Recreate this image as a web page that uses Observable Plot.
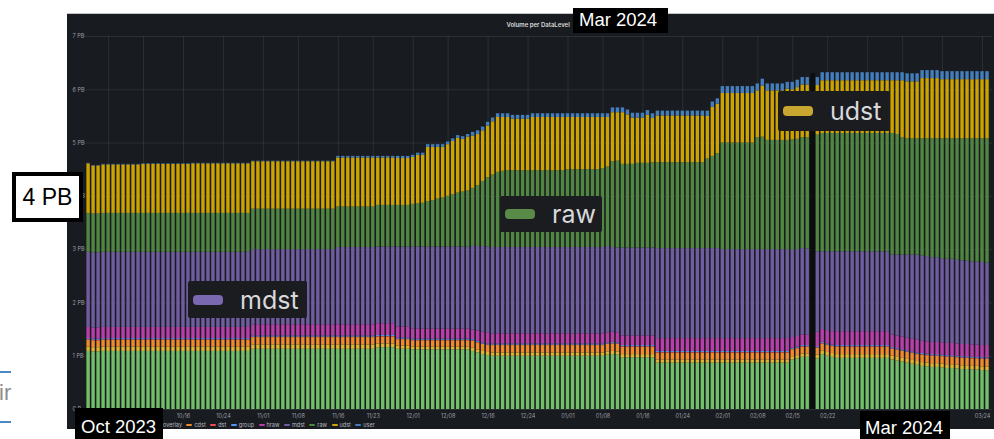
<!DOCTYPE html>
<html>
<head>
<meta charset="utf-8">
<script src="https://cdn.jsdelivr.net/npm/d3@7"></script>
<script src="https://cdn.jsdelivr.net/npm/@observablehq/plot@0.6"></script>
<style>
html,body{margin:0;padding:0;background:#fff;}
body{width:994px;height:439px;position:relative;overflow:hidden;font-family:Inter,"Liberation Sans",sans-serif;}
#panel{position:absolute;left:67px;top:13px;width:927px;height:416px;background:#181b1f;border-top:1px solid #c4c4c4;box-sizing:border-box;}
#chart{position:absolute;left:0;top:0;}
.note{position:absolute;background:#000;color:#fff;font-family:"Liberation Sans",Arial,sans-serif;font-size:18.5px;line-height:1;box-sizing:border-box;}
.note span{position:absolute;line-height:1;}
.pb{position:absolute;left:12px;top:172px;width:71px;height:50px;background:#fff;border:4px solid #000;box-sizing:border-box;display:flex;align-items:center;justify-content:center;font-family:"Liberation Sans",Arial,sans-serif;font-size:23px;color:#000;}
.lab{position:absolute;background:#1b1c20;color:#d8d9da;font-family:Inter,sans-serif;font-size:25px;display:flex;align-items:center;box-sizing:border-box;border-radius:2px;}
.lab i{display:block;width:30px;height:10px;border-radius:4px;margin-left:5px;margin-right:17px;}
#legend{position:absolute;top:422px;left:155px;display:flex;align-items:center;font-size:5.5px;color:#b8bac4;font-family:Inter,sans-serif;white-space:nowrap;}
#legend .it{display:flex;align-items:center;margin-right:4.5px;}
#legend .sw{width:6px;height:1.5px;margin-right:2px;border-radius:1px;}
.side{position:absolute;}
</style>
</head>
<body>
<div id="panel"></div>
<div id="chart"></div>
<div id="legend"></div>
<div class="side" style="left:0;top:371px;width:11px;height:1.5px;background:#4f86c6;"></div>
<div class="side" style="left:0;top:421px;width:11px;height:1.5px;background:#4f86c6;"></div>
<div class="side" style="left:-1px;top:382px;font-family:'Liberation Sans',Arial,sans-serif;font-size:22px;color:#8c8c8c;line-height:1;">ir</div>
<script>
// ---- data ----
const startDay = "2023-09-27";
const endDay = "2024-03-26"; // exclusive
const gapDays = ["2024-02-19"];
const chartTitle = "Volume per DataLevel";
const yTicks = [0, 1, 2, 3, 4, 5, 6, 7];
const yTickLabels = ["0 B", "1 PB", "2 PB", "3 PB", "4 PB", "5 PB", "6 PB", "7 PB"];
const tickDates = ["2023-10-01","2023-10-08","2023-10-16","2023-10-24","2023-11-01","2023-11-08","2023-11-16","2023-11-23","2023-12-01","2023-12-08","2023-12-16","2023-12-24","2024-01-01","2024-01-08","2024-01-16","2024-01-24","2024-02-01","2024-02-08","2024-02-15","2024-02-22","2024-03-01","2024-03-08","2024-03-16","2024-03-24"];
// labels hidden behind the "Oct 2023" / "Mar 2024" notes in the reference are left blank
const tickLabels = ["","","10/16","10/24","11/01","11/08","11/16","11/23","12/01","12/08","12/16","12/24","01/01","01/08","01/16","01/24","02/01","02/08","02/15","02/22","","","","03/24"];
const seriesNames = ["mc", "overlay", "cdst", "dst", "group", "hraw", "mdst", "raw", "udst", "user"];
const seriesColors = ["#73bf69", "#e0b62e", "#f08a2c", "#f2495c", "#5794f2", "#b83fa9", "#705da0", "#508642", "#cca300", "#447ebc"];

// values in PB, one per day from startDay (null = no data)
const mc = [
1.09,1.08,1.08,1.09,1.09,1.09,1.09,1.09,1.09,1.09,
1.09,1.09,1.09,1.09,1.09,1.09,1.09,1.09,1.09,1.09,
1.09,1.09,1.09,1.09,1.09,1.09,1.09,1.09,1.09,1.09,
1.09,1.09,1.09,1.13,1.13,1.13,1.13,1.13,1.13,1.13,
1.13,1.13,1.13,1.13,1.13,1.13,1.13,1.13,1.13,1.13,
1.13,1.13,1.13,1.13,1.13,1.13,1.13,1.13,1.16,1.16,
1.16,1.16,1.13,1.13,1.13,1.12,1.12,1.12,1.12,1.12,
1.12,1.12,1.12,1.12,1.12,1.12,1.12,1.09,1.06,1.03,
1.01,1.00,1.00,1.00,1.00,1.00,1.00,1.00,1.00,1.00,
1.00,1.00,1.00,1.00,1.00,1.00,1.00,1.00,1.00,1.00,
1.00,1.00,1.00,1.00,1.02,1.03,1.02,0.97,0.97,0.97,
0.97,0.97,0.97,0.97,0.87,0.87,0.87,0.87,0.87,0.87,
0.87,0.87,0.87,0.87,0.87,0.87,0.87,0.87,0.87,0.87,
0.87,0.87,0.87,0.87,0.87,0.87,0.87,0.87,0.87,0.87,
0.87,0.93,0.95,0.98,0.98,null,0.95,1.03,1.00,0.98,
0.96,0.96,0.96,0.96,0.96,0.96,0.96,0.96,0.96,0.96,
0.96,0.93,0.91,0.89,0.87,0.85,0.83,0.81,0.80,0.79,
0.79,0.78,0.77,0.77,0.76,0.75,0.75,0.74,0.74,0.73,
0.73];
const overlay = [
0.08,0.08,0.08,0.08,0.08,0.08,0.08,0.08,0.08,0.08,
0.08,0.08,0.08,0.08,0.08,0.08,0.08,0.08,0.08,0.08,
0.08,0.08,0.08,0.08,0.08,0.08,0.08,0.08,0.08,0.08,
0.08,0.08,0.08,0.08,0.08,0.08,0.08,0.08,0.08,0.08,
0.08,0.08,0.08,0.08,0.08,0.08,0.08,0.08,0.08,0.08,
0.08,0.08,0.08,0.08,0.08,0.08,0.08,0.08,0.07,0.07,
0.07,0.07,0.06,0.06,0.06,0.05,0.05,0.05,0.05,0.05,
0.05,0.05,0.05,0.05,0.05,0.05,0.05,0.06,0.06,0.06,
0.06,0.06,0.06,0.06,0.06,0.06,0.06,0.06,0.06,0.06,
0.06,0.06,0.06,0.06,0.06,0.06,0.06,0.06,0.06,0.06,
0.06,0.06,0.06,0.06,0.06,0.06,0.06,0.06,0.06,0.06,
0.06,0.06,0.06,0.06,0.06,0.06,0.06,0.06,0.06,0.06,
0.06,0.06,0.06,0.06,0.06,0.06,0.06,0.06,0.06,0.06,
0.06,0.06,0.06,0.06,0.06,0.06,0.06,0.06,0.06,0.06,
0.06,0.06,0.06,0.06,0.06,null,0.07,0.07,0.07,0.07,
0.07,0.07,0.07,0.07,0.07,0.07,0.07,0.07,0.07,0.07,
0.07,0.07,0.07,0.07,0.07,0.07,0.07,0.07,0.07,0.07,
0.07,0.07,0.07,0.07,0.07,0.07,0.07,0.07,0.07,0.07,
0.07];
const cdst = [
0.13,0.13,0.13,0.13,0.13,0.13,0.13,0.13,0.13,0.13,
0.13,0.13,0.13,0.13,0.13,0.13,0.13,0.13,0.13,0.13,
0.13,0.13,0.13,0.13,0.13,0.13,0.13,0.13,0.13,0.13,
0.13,0.13,0.13,0.14,0.14,0.14,0.14,0.14,0.14,0.14,
0.14,0.14,0.14,0.14,0.14,0.14,0.14,0.14,0.14,0.14,
0.14,0.14,0.14,0.14,0.14,0.14,0.14,0.14,0.13,0.13,
0.13,0.13,0.12,0.12,0.12,0.12,0.12,0.12,0.12,0.12,
0.12,0.12,0.12,0.12,0.12,0.12,0.12,0.13,0.13,0.13,
0.13,0.14,0.14,0.14,0.14,0.14,0.14,0.14,0.14,0.14,
0.14,0.14,0.14,0.14,0.14,0.14,0.14,0.14,0.14,0.14,
0.14,0.14,0.14,0.14,0.14,0.14,0.14,0.14,0.14,0.14,
0.14,0.14,0.14,0.14,0.13,0.13,0.13,0.13,0.13,0.13,
0.13,0.13,0.13,0.13,0.13,0.13,0.13,0.13,0.13,0.13,
0.13,0.13,0.13,0.13,0.13,0.13,0.13,0.13,0.13,0.13,
0.13,0.13,0.13,0.13,0.13,null,0.13,0.13,0.13,0.13,
0.14,0.14,0.14,0.14,0.14,0.14,0.14,0.14,0.14,0.14,
0.14,0.13,0.13,0.13,0.13,0.13,0.13,0.14,0.14,0.14,
0.14,0.14,0.14,0.14,0.14,0.14,0.14,0.14,0.14,0.14,
0.14];
const dst = [
0.01,0.01,0.01,0.01,0.01,0.01,0.01,0.01,0.01,0.01,
0.01,0.01,0.01,0.01,0.01,0.01,0.01,0.01,0.01,0.01,
0.01,0.01,0.01,0.01,0.01,0.01,0.01,0.01,0.01,0.01,
0.01,0.01,0.01,0.01,0.01,0.01,0.01,0.01,0.01,0.01,
0.01,0.01,0.01,0.01,0.01,0.01,0.01,0.01,0.01,0.01,
0.01,0.01,0.01,0.01,0.01,0.01,0.01,0.01,0.01,0.01,
0.01,0.01,0.01,0.01,0.01,0.01,0.01,0.01,0.01,0.01,
0.01,0.01,0.01,0.01,0.01,0.01,0.01,0.01,0.01,0.01,
0.01,0.01,0.01,0.01,0.01,0.01,0.01,0.01,0.01,0.01,
0.01,0.01,0.01,0.01,0.01,0.01,0.01,0.01,0.01,0.01,
0.01,0.01,0.01,0.01,0.01,0.01,0.01,0.01,0.01,0.01,
0.01,0.01,0.01,0.01,0.01,0.01,0.01,0.01,0.01,0.01,
0.01,0.01,0.01,0.01,0.01,0.01,0.01,0.01,0.01,0.01,
0.01,0.01,0.01,0.01,0.01,0.01,0.01,0.01,0.01,0.01,
0.01,0.01,0.01,0.01,0.01,null,0.01,0.01,0.01,0.01,
0.01,0.01,0.01,0.01,0.01,0.01,0.01,0.01,0.01,0.01,
0.01,0.01,0.01,0.01,0.01,0.01,0.01,0.01,0.01,0.01,
0.01,0.01,0.01,0.01,0.01,0.01,0.01,0.01,0.01,0.01,
0.01];
const group = [
0.02,0.02,0.02,0.02,0.02,0.02,0.02,0.02,0.02,0.02,
0.02,0.02,0.02,0.02,0.02,0.02,0.02,0.02,0.02,0.02,
0.02,0.02,0.02,0.02,0.02,0.02,0.02,0.02,0.02,0.02,
0.02,0.02,0.02,0.02,0.02,0.02,0.02,0.02,0.02,0.02,
0.02,0.02,0.02,0.02,0.02,0.02,0.02,0.02,0.02,0.02,
0.02,0.02,0.02,0.02,0.02,0.02,0.02,0.02,0.02,0.02,
0.02,0.02,0.02,0.02,0.02,0.02,0.02,0.02,0.02,0.02,
0.02,0.02,0.02,0.02,0.02,0.02,0.02,0.02,0.02,0.02,
0.02,0.02,0.02,0.02,0.02,0.02,0.02,0.02,0.02,0.02,
0.02,0.02,0.02,0.02,0.02,0.02,0.02,0.02,0.02,0.02,
0.02,0.02,0.02,0.02,0.02,0.02,0.02,0.02,0.02,0.02,
0.02,0.02,0.02,0.02,0.02,0.02,0.02,0.02,0.02,0.02,
0.02,0.02,0.02,0.02,0.02,0.02,0.02,0.02,0.02,0.02,
0.02,0.02,0.02,0.02,0.02,0.02,0.02,0.02,0.02,0.02,
0.02,0.02,0.02,0.02,0.02,null,0.02,0.02,0.02,0.02,
0.02,0.02,0.02,0.02,0.02,0.02,0.02,0.02,0.02,0.02,
0.02,0.02,0.02,0.02,0.02,0.02,0.02,0.02,0.02,0.02,
0.02,0.02,0.02,0.02,0.02,0.02,0.02,0.02,0.02,0.02,
0.02];
const hraw = [
0.21,0.21,0.21,0.21,0.21,0.21,0.21,0.21,0.21,0.21,
0.21,0.21,0.21,0.21,0.21,0.21,0.21,0.21,0.21,0.21,
0.21,0.21,0.21,0.21,0.21,0.21,0.21,0.21,0.21,0.21,
0.21,0.21,0.21,0.21,0.21,0.21,0.21,0.21,0.21,0.21,
0.21,0.21,0.21,0.21,0.21,0.21,0.21,0.21,0.21,0.21,
0.21,0.21,0.21,0.21,0.21,0.21,0.21,0.21,0.22,0.22,
0.22,0.22,0.21,0.21,0.21,0.19,0.19,0.19,0.19,0.19,
0.19,0.19,0.19,0.19,0.19,0.19,0.19,0.18,0.19,0.20,
0.20,0.19,0.19,0.19,0.19,0.19,0.19,0.19,0.19,0.19,
0.19,0.19,0.19,0.19,0.19,0.19,0.19,0.19,0.19,0.19,
0.19,0.19,0.19,0.19,0.19,0.19,0.19,0.18,0.18,0.18,
0.18,0.18,0.18,0.18,0.24,0.24,0.24,0.24,0.24,0.24,
0.24,0.24,0.24,0.24,0.24,0.24,0.24,0.24,0.24,0.24,
0.24,0.24,0.24,0.24,0.24,0.24,0.24,0.24,0.24,0.24,
0.24,0.20,0.20,0.20,0.20,null,0.27,0.24,0.25,0.25,
0.26,0.26,0.26,0.26,0.26,0.26,0.26,0.26,0.26,0.26,
0.26,0.24,0.24,0.24,0.24,0.24,0.24,0.23,0.23,0.23,
0.23,0.23,0.23,0.23,0.23,0.23,0.23,0.23,0.23,0.23,
0.23];
const mdst = [
1.41,1.41,1.41,1.41,1.41,1.41,1.41,1.41,1.41,1.41,
1.41,1.41,1.41,1.41,1.41,1.41,1.41,1.41,1.41,1.41,
1.41,1.41,1.41,1.41,1.41,1.41,1.41,1.41,1.41,1.41,
1.41,1.41,1.41,1.41,1.41,1.41,1.41,1.41,1.41,1.41,
1.41,1.41,1.41,1.41,1.41,1.41,1.41,1.41,1.41,1.41,
1.45,1.45,1.45,1.45,1.45,1.45,1.45,1.45,1.44,1.44,
1.44,1.44,1.50,1.50,1.50,1.54,1.54,1.54,1.54,1.54,
1.54,1.54,1.54,1.54,1.54,1.54,1.54,1.57,1.59,1.61,
1.62,1.62,1.62,1.62,1.62,1.62,1.62,1.62,1.62,1.62,
1.62,1.62,1.62,1.62,1.62,1.62,1.62,1.62,1.62,1.62,
1.62,1.62,1.62,1.62,1.62,1.59,1.59,1.65,1.65,1.65,
1.65,1.65,1.65,1.65,1.69,1.69,1.69,1.69,1.69,1.69,
1.69,1.69,1.69,1.69,1.69,1.69,1.69,1.67,1.67,1.67,
1.67,1.67,1.67,1.67,1.67,1.67,1.67,1.67,1.67,1.67,
1.67,1.64,1.63,1.62,1.61,null,1.51,1.46,1.48,1.50,
1.50,1.50,1.50,1.50,1.50,1.50,1.50,1.50,1.50,1.50,
1.50,1.50,1.52,1.54,1.56,1.58,1.60,1.60,1.60,1.59,
1.59,1.58,1.58,1.58,1.57,1.57,1.57,1.56,1.56,1.56,
1.55];
const raw = [
0.73,0.73,0.73,0.73,0.73,0.73,0.73,0.73,0.73,0.73,
0.73,0.73,0.73,0.73,0.73,0.73,0.73,0.73,0.73,0.73,
0.73,0.73,0.73,0.73,0.73,0.73,0.73,0.73,0.73,0.73,
0.73,0.73,0.73,0.76,0.76,0.76,0.76,0.76,0.76,0.76,
0.76,0.76,0.76,0.76,0.76,0.76,0.76,0.76,0.76,0.76,
0.76,0.76,0.76,0.76,0.76,0.76,0.76,0.76,0.78,0.78,
0.78,0.78,0.78,0.78,0.78,0.80,0.81,0.82,0.85,0.87,
0.90,0.92,0.95,0.98,1.01,1.03,1.05,1.09,1.14,1.22,
1.30,1.36,1.41,1.43,1.44,1.44,1.44,1.44,1.44,1.44,
1.44,1.44,1.44,1.44,1.44,1.44,1.46,1.46,1.46,1.46,
1.46,1.46,1.46,1.48,1.49,1.61,1.63,1.57,1.57,1.57,
1.59,1.59,1.59,1.60,1.61,1.61,1.61,1.61,1.61,1.61,
1.61,1.61,1.61,1.61,1.68,1.73,1.78,2.00,2.00,2.00,
2.00,2.00,2.00,2.00,2.10,2.11,2.05,2.05,2.05,2.05,
2.05,2.07,2.07,2.08,2.09,null,2.19,2.22,2.22,2.22,
2.22,2.22,2.22,2.22,2.22,2.22,2.22,2.22,2.22,2.22,
2.22,2.28,2.26,2.20,2.18,2.18,2.18,2.20,2.21,2.23,
2.23,2.25,2.26,2.26,2.28,2.29,2.29,2.31,2.31,2.32,
2.33];
const udst = [
0.93,0.90,0.90,0.91,0.91,0.91,0.91,0.91,0.91,0.91,
0.91,0.92,0.92,0.92,0.92,0.92,0.92,0.92,0.92,0.92,
0.92,0.93,0.93,0.93,0.93,0.93,0.93,0.93,0.93,0.93,
0.93,0.93,0.93,0.89,0.89,0.89,0.89,0.89,0.89,0.89,
0.89,0.89,0.89,0.89,0.89,0.89,0.89,0.89,0.89,0.89,
0.92,0.92,0.92,0.92,0.92,0.92,0.92,0.92,0.89,0.89,
0.89,0.89,0.88,0.88,0.88,0.88,0.91,0.90,1.02,1.00,
0.97,0.95,0.97,1.00,1.03,0.99,1.01,0.98,0.96,0.95,
0.97,1.00,1.03,1.01,1.00,0.97,0.97,0.97,0.97,1.00,
1.00,1.00,1.00,1.00,1.00,1.00,0.98,0.98,0.98,0.98,
0.98,0.98,0.98,0.96,0.93,0.92,0.91,0.97,0.93,0.87,
0.85,0.85,0.90,0.83,0.88,0.88,0.88,0.88,0.88,0.88,
0.88,0.88,0.88,0.88,0.80,0.92,0.93,0.93,0.93,0.93,
0.93,0.93,0.93,0.93,0.88,0.96,0.93,0.93,0.93,0.93,
0.96,0.94,0.97,0.99,0.99,null,0.93,0.99,0.99,0.99,
0.99,0.99,0.99,0.99,0.99,0.99,0.99,0.99,0.99,0.99,
0.99,0.99,1.01,1.07,1.07,1.07,1.07,1.13,1.13,1.13,
1.13,1.11,1.11,1.11,1.11,1.11,1.11,1.11,1.11,1.11,
1.11];
const user = [
0.01,0.01,0.01,0.01,0.01,0.01,0.01,0.01,0.01,0.01,
0.01,0.01,0.01,0.01,0.01,0.01,0.01,0.01,0.01,0.01,
0.01,0.01,0.01,0.01,0.01,0.01,0.01,0.01,0.01,0.01,
0.01,0.01,0.01,0.01,0.01,0.01,0.01,0.01,0.01,0.01,
0.01,0.01,0.01,0.01,0.01,0.01,0.01,0.01,0.01,0.01,
0.03,0.03,0.03,0.03,0.03,0.03,0.03,0.03,0.03,0.03,
0.03,0.03,0.04,0.04,0.04,0.04,0.04,0.04,0.05,0.05,
0.05,0.05,0.05,0.05,0.05,0.05,0.05,0.07,0.07,0.07,
0.07,0.07,0.07,0.07,0.07,0.07,0.07,0.07,0.07,0.07,
0.07,0.07,0.07,0.07,0.07,0.07,0.07,0.07,0.07,0.07,
0.07,0.07,0.07,0.07,0.07,0.09,0.09,0.09,0.09,0.09,
0.09,0.09,0.09,0.09,0.09,0.09,0.09,0.09,0.09,0.09,
0.09,0.09,0.09,0.09,0.10,0.10,0.10,0.13,0.13,0.13,
0.13,0.13,0.13,0.13,0.13,0.13,0.13,0.13,0.13,0.13,
0.13,0.14,0.14,0.14,0.14,null,0.15,0.15,0.15,0.15,
0.15,0.15,0.15,0.15,0.15,0.15,0.15,0.15,0.15,0.15,
0.15,0.15,0.15,0.15,0.15,0.15,0.15,0.15,0.15,0.15,
0.15,0.15,0.15,0.15,0.15,0.15,0.15,0.15,0.15,0.15,
0.15];

// ---- build table ----
const seriesValues = [mc, overlay, cdst, dst, group, hraw, mdst, raw, udst, user];
const days = d3.utcDay.range(new Date(startDay), new Date(endDay));
const rows = [];
days.forEach((date, i) => {
  seriesNames.forEach((name, k) => {
    const v = seriesValues[k][i];
    if (v != null) rows.push({date, series: name, value: v});
  });
});
const DAY = 864e5;
const half = 0.34 * DAY;
const labelled = tickDates.map((d, i) => ({date: new Date(d), label: tickLabels[i]})).filter(t => t.label);

const chart = Plot.plot({
  width: 994,
  height: 439,
  marginLeft: 83.1,
  marginRight: 2,
  marginTop: 36,
  marginBottom: 30,
  style: {background: "transparent", fontFamily: "Inter, sans-serif", overflow: "visible"},
  x: {type: "utc", domain: [new Date("2023-09-26"), new Date("2024-03-26")], axis: null},
  y: {domain: [0, 7], axis: null},
  color: {domain: seriesNames, range: seriesColors},
  marks: [
    Plot.gridY(yTicks, {stroke: "#ccccdc", strokeOpacity: 0.11}),
    Plot.gridX(tickDates.map(d => new Date(d)), {stroke: "#ccccdc", strokeOpacity: 0.11}),
    Plot.rectY(rows, {
      x1: d => new Date(+d.date - half),
      x2: d => new Date(+d.date + half),
      y: "value",
      fill: "series"
    }),
    Plot.ruleX(gapDays, {x: d => new Date(d), y1: 0, y2: 6.3, stroke: "#0c0d0f", strokeWidth: 5}),
    Plot.text(yTicks, {y: d => d, text: (d, i) => yTickLabels[i], frameAnchor: "left", dx: -11, textAnchor: "start", fill: "#9a9ca6", fontSize: 5.5}),
    Plot.text(labelled, {x: "date", text: "label", frameAnchor: "bottom", dy: 8, fill: "#9a9ca6", fontSize: 5.5}),
    Plot.text([chartTitle], {frameAnchor: "top", dy: -14, fill: "#d8d9da", fontSize: 6, fontWeight: 600})
  ]
});
document.getElementById("chart").appendChild(chart);

// legend row (Grafana style); the first entry sits behind the "Oct 2023" note
const legend = document.getElementById("legend");
seriesNames.forEach((name, k) => {
  if (k === 0) return;
  const it = document.createElement("div");
  it.className = "it";
  it.innerHTML = `<span class="sw" style="background:${seriesColors[k]}"></span><span>${name}</span>`;
  legend.appendChild(it);
});
</script>
<div class="note" style="left:75px;top:408px;width:88px;height:31px;"><span style="left:6px;top:10px;">Oct 2023</span></div>
<div class="note" style="left:573px;top:8px;width:95px;height:25px;"><span style="left:6px;top:3px;">Mar 2024</span></div>
<div class="note" style="left:860px;top:411px;width:90px;height:28px;"><span style="left:5px;top:8px;">Mar 2024</span></div>
<div class="pb">4 PB</div>
<div class="lab" style="left:778px;top:91px;width:112px;height:40px;"><i style="background:#c9a62f"></i>udst</div>
<div class="lab" style="left:500px;top:196px;width:102px;height:36px;"><i style="background:#5a8a47"></i>raw</div>
<div class="lab" style="left:188px;top:281px;width:119px;height:37px;"><i style="background:#7a68b0"></i>mdst</div>
</body>
</html>
